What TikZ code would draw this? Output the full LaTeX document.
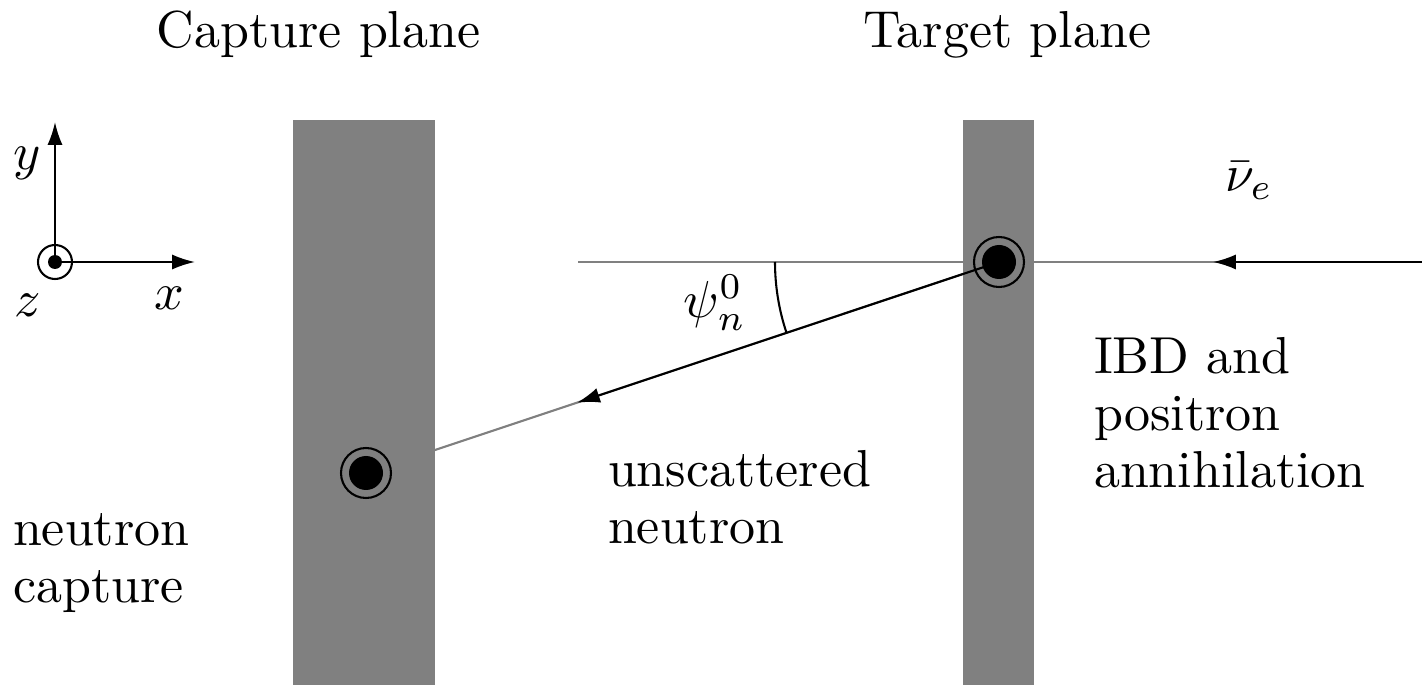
\documentclass[tikz,border=0pt]{standalone}
\usetikzlibrary{arrows.meta}
\begin{document}
\begin{tikzpicture}[x=0.19231pt,y=0.19231pt,
  every node/.style={font=\fontsize{10}{10.9}\selectfont, inner sep=0pt},
  plane/.style={fill=gray, draw=none},
  ray/.style={draw=gray, line width=0.4pt},
  arr/.style={draw=black, line width=0.4pt, -{Latex[length=4.4pt,width=2.9pt]}},
  thin line/.style={draw=black, line width=0.4pt},
  lbl/.style={align=left, anchor=base west}]
\useasboundingbox (0,0) rectangle (1422,692);
% key points
\coordinate (T) at (999,430);
\coordinate (C) at (366,219);
\coordinate (L) at (578,430);
\coordinate (R) at (1422,430);
\coordinate (nuTip) at (1213,430);
\coordinate (nTip) at (577,289.3);
\coordinate (arcS) at (775,430);
% rays
\draw[ray] (L) -- (R);
\draw[ray] (T) -- (C);
% planes
\fill[plane] (293,7) rectangle (435,572);
\fill[plane] (963,7) rectangle (1034,572);
% arrows
\draw[arr] (R) -- (nuTip);
\draw[arr] (T) -- (nTip);
\draw[thin line] (arcS) arc[start angle=180, end angle=198.43, radius=224];
% dots
\foreach \p in {T,C} {
  \draw[thin line] (\p) circle[radius=25];
  \fill[black] (\p) circle[radius=17];
}
% axes icon
\coordinate (O) at (55,430);
\coordinate (Oy) at (55,570);
\coordinate (Ox) at (195,430);
\draw[arr] (O) -- (Oy);
\draw[arr] (O) -- (Ox);
\draw[thin line] (O) circle[radius=17];
\fill[black] (O) circle[radius=7];
\node (ylab) at (27,529) {$y$};
\node (zlab) at (28,387) {$z$};
\node (xlab) at (169,394) {$x$};
% labels
\node (psi) at (715,389) {$\psi_n^0$};
\node (nu) at (1249,511) {$\bar\nu_e$};
\node[anchor=base] (cap) at (318.5,644) {Capture plane};
\node[anchor=base] (tar) at (1007.5,644) {Target plane};
\node[lbl] (uns) at (607,149) {unscattered\\neutron};
\node[lbl] (ibd) at (1093,205) {IBD and\\positron\\annihilation};
\node[lbl] (ncap) at (12,90) {neutron\\capture};
\end{tikzpicture}
\end{document}
